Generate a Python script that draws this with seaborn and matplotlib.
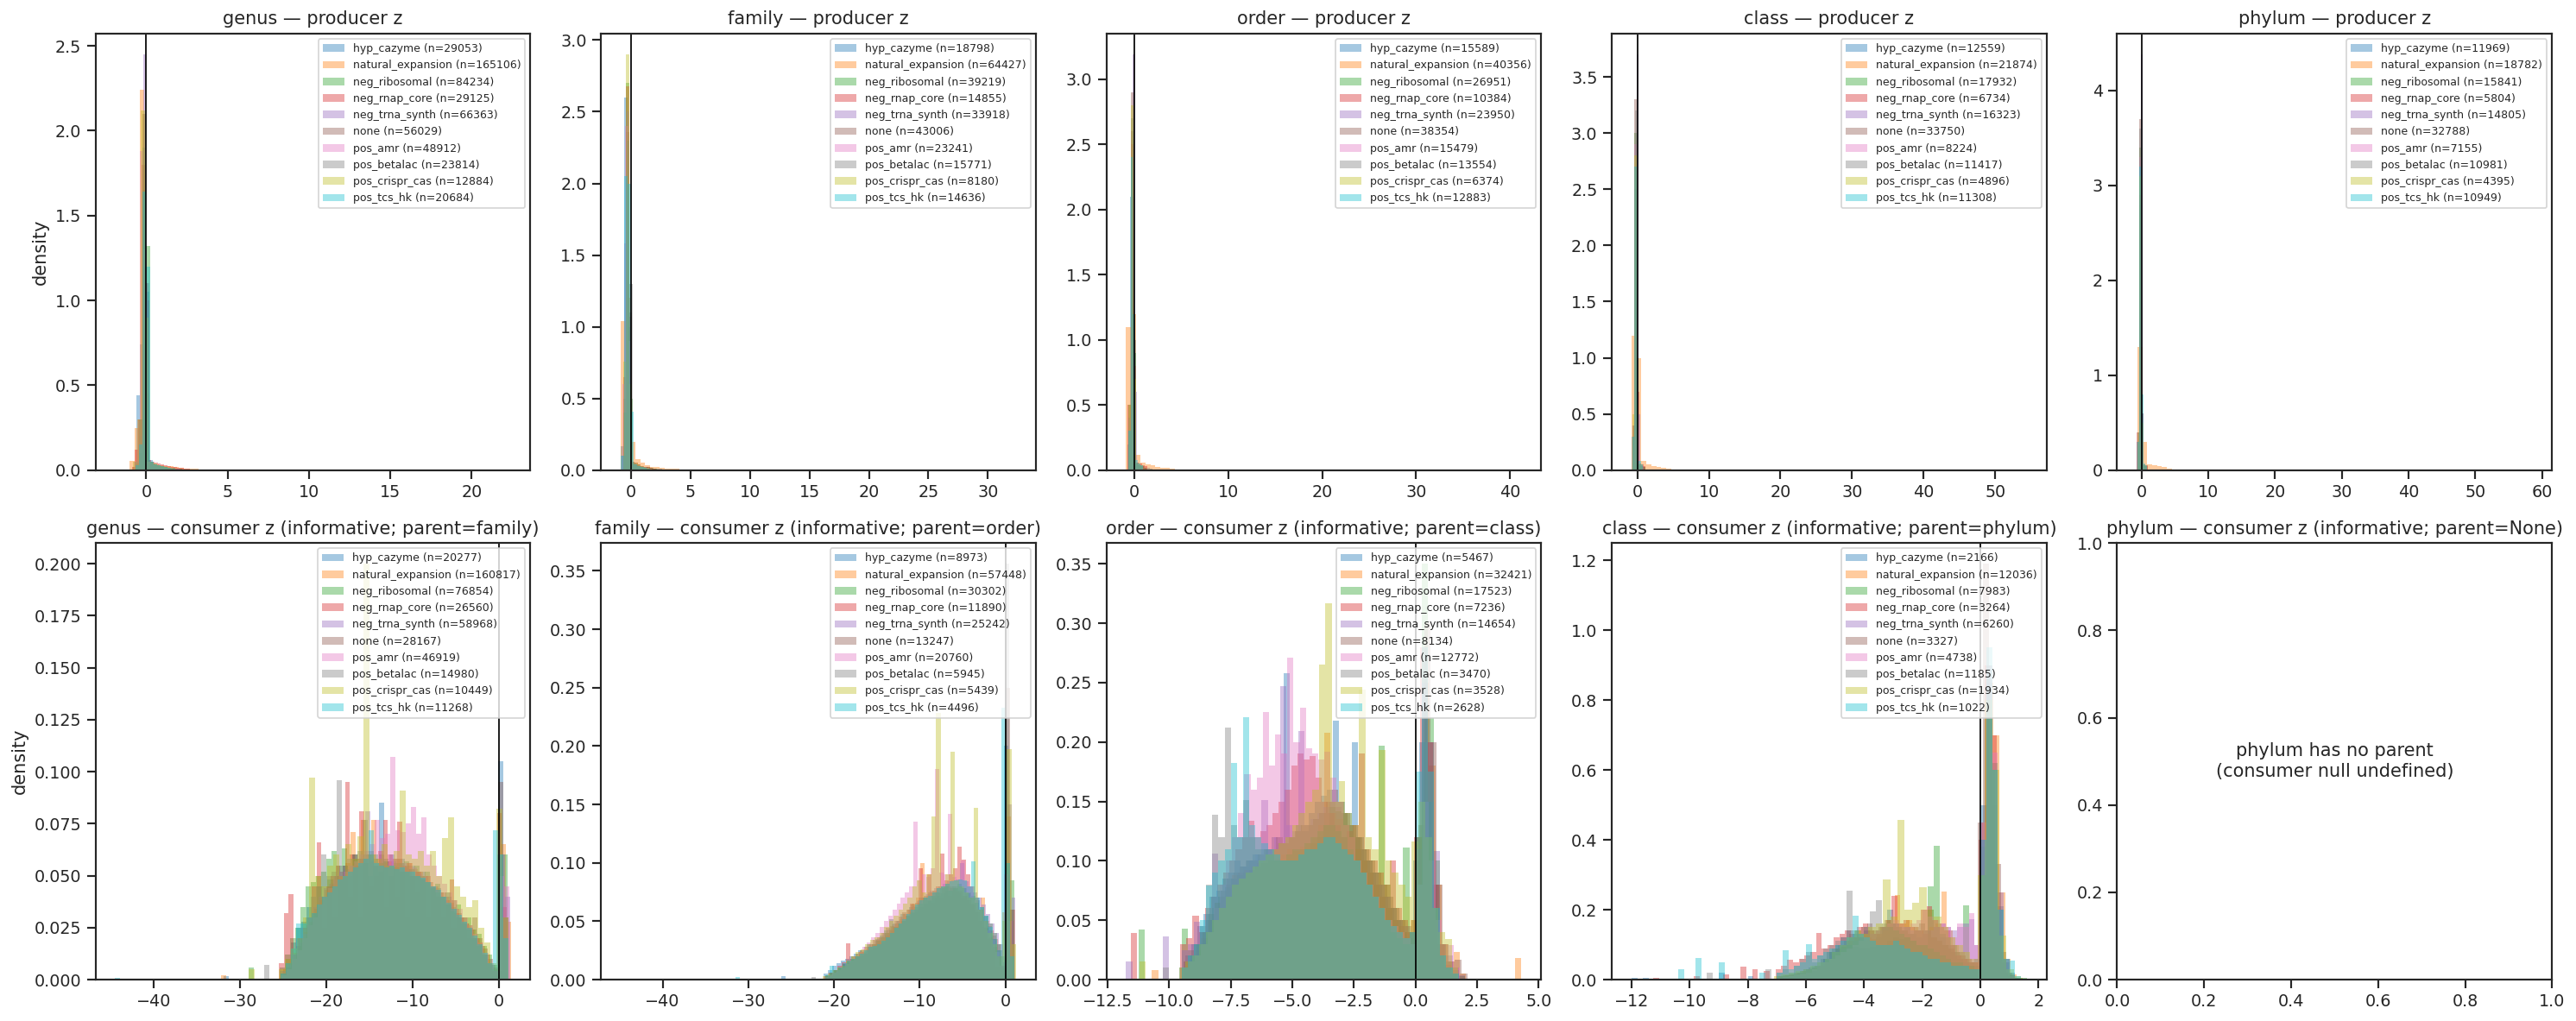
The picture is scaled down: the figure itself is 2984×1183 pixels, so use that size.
import numpy as np
import seaborn as sns
import matplotlib.pyplot as plt

sns.set_theme(style="ticks")
plt.rcParams["font.family"] = ["DejaVu Sans"]

GROUPS = ["hyp_cazyme", "natural_expansion", "neg_ribosomal", "neg_rnap_core", "neg_trna_synth",
          "none", "pos_amr", "pos_betalac", "pos_crispr_cas", "pos_tcs_hk"]
COLORS = sns.color_palette("tab10", 10)
RANKS = ["genus", "family", "order", "class", "phylum"]
PARENTS = ["family", "order", "class", "phylum", "None"]

# sample sizes shown in the legends
n_prod_genus = [29053, 165106, 84234, 29125, 66363, 56029, 48912, 23814, 12884, 20684]
n_prod_family = [18798, 64427, 39219, 14855, 33918, 43006, 23241, 15771, 8180, 14636]
n_prod_order = [15589, 40356, 26951, 10384, 23950, 38354, 15479, 13554, 6374, 12883]
n_prod_class = [12559, 21874, 17932, 6734, 16323, 33750, 8224, 11417, 4896, 11308]
n_prod_phylum = [11969, 18782, 15841, 5804, 14805, 32788, 7155, 10981, 4395, 10949]
n_cons_genus = [20277, 160817, 76854, 26560, 58968, 28167, 46919, 14980, 10449, 11268]
n_cons_family = [8973, 57448, 30302, 11890, 25242, 13247, 20760, 5945, 5439, 4496]
n_cons_order = [5467, 32421, 17523, 7236, 14654, 8134, 12772, 3470, 3528, 2628]
n_cons_class = [2166, 12036, 7983, 3264, 6260, 3327, 4738, 1185, 1934, 1022]

# histogram densities: group -> (first bin edge, bin width, bar heights)
prod_genus = {
    "hyp_cazyme": (-0.82, 0.2, [.02, .44, .74, 1.64, 1.05, .06, .04, .03, .025, .02, .016, .012, .01, .008, .006, .005, .004]),
    "natural_expansion": (-1.01, 0.3, [.055, .25, 2.24, .45, .04, .035, .03, .026, .022, .018, .014, .011, .009, .007, .005, .004, .003, .002]),
    "neg_ribosomal": (-0.66, 0.22, [.03, .1, 1.65, 1.32, .05, .035, .03, .025, .02, .015, .012, .01, .008, .006, .005]),
    "neg_rnap_core": (-0.9, 0.2, [.02, .12, .3, 1.8, 1.1, .06, .05, .045, .04, .035, .03, .025, .02, .018, .015, .012, .01, .008, .006, .005]),
    "neg_trna_synth": (-0.6, 0.2, [.05, .2, 2.45, 1.0, .05, .03, .02, .015, .01, .008, .006]),
    "none": (-0.7, 0.22, [.05, .3, 2.1, 1.0, .04, .03, .025, .02, .015, .01, .008, .006]),
    "pos_amr": (-0.78, 0.2, [.05, .3, 1.88, 1.3, .05, .04, .035, .03, .025, .02, .015, .012, .01, .008]),
    "pos_betalac": (-0.68, 0.22, [.04, .3, 1.9, 1.1, .05, .035, .03, .025, .02, .015, .01]),
    "pos_crispr_cas": (-0.8, 0.24, [.05, .3, 2.12, .9, .05, .04, .03, .025, .02, .015, .01]),
    "pos_tcs_hk": (-0.66, 0.22, [.03, .15, 1.64, 1.2, .05, .035, .03, .025, .02, .015, .01]),
}
tails_prod_genus = {"natural_expansion": [(-1.75, .001), (22.2, .0008)]}

prod_family = {
    "hyp_cazyme": (-0.82, 0.29, [.17, 2.6, 1.0, .06, .04, .03, .025, .02, .015, .012, .01, .008]),
    "natural_expansion": (-0.85, 0.41, [1.04, 1.2, .2, .075, .055, .035, .025, .02, .015, .012, .01, .008, .006, .005]),
    "neg_ribosomal": (-0.73, 0.29, [.1, 2.7, .5, .05, .04, .03, .025, .02, .015, .01]),
    "neg_rnap_core": (-0.65, 0.25, [.65, 2.68, 1.07, .06, .05, .04, .03, .025, .02, .015, .01]),
    "neg_trna_synth": (-0.76, 0.2, [.1, 1.58, 2.5, .6, .05, .04, .03, .02, .015, .01]),
    "none": (-0.65, 0.25, [.5, 2.36, 1.1, .05, .04, .03, .025, .02, .015]),
    "pos_amr": (-0.7, 0.25, [.6, 2.4, .9, .06, .05, .04, .03, .02, .015, .01]),
    "pos_betalac": (-0.6, 0.25, [.4, 2.3, 1.3, .05, .04, .03, .02, .015, .01]),
    "pos_crispr_cas": (-0.63, 0.24, [.76, 2.9, .6, .06, .05, .04, .03, .02, .015, .01]),
    "pos_tcs_hk": (-0.81, 0.27, [.1, 2.05, 2.0, .41, .04, .03, .02, .015, .01]),
}
tails_prod_family = {"natural_expansion": [(32.1, .0005)]}

prod_order = {
    "hyp_cazyme": (-0.75, 0.3, [.2, 2.1, 1.0, .06, .04, .03, .02, .015, .01]),
    "natural_expansion": (-0.9, 0.52, [1.1, 1.2, .12, .06, .045, .035, .025, .02, .015, .01, .008]),
    "neg_ribosomal": (-0.7, 0.28, [.3, 2.6, .9, .05, .04, .03, .02]),
    "neg_rnap_core": (-0.72, 0.3, [.5, 2.5, .8, .06, .05, .04, .03]),
    "neg_trna_synth": (-0.62, 0.22, [.3, 1.5, 3.19, .6, .05, .04, .03]),
    "none": (-0.65, 0.25, [.4, 2.9, .8, .05, .04, .03]),
    "pos_amr": (-0.7, 0.27, [.4, 2.6, .9, .06, .05, .04]),
    "pos_betalac": (-0.62, 0.25, [.5, 2.7, .9, .05, .04, .03]),
    "pos_crispr_cas": (-0.66, 0.26, [.5, 2.8, .7, .06, .05, .04]),
    "pos_tcs_hk": (-0.7, 0.27, [.3, 2.4, 1.2, .08, .05, .04]),
}
tails_prod_order = {"natural_expansion": [(41.0, .0005)]}

prod_class = {
    "hyp_cazyme": (-0.75, 0.32, [.3, 2.5, .8, .05, .04, .03]),
    "natural_expansion": (-0.8, 0.69, [1.2, 1.0, .08, .05, .04, .03, .02, .01, .008]),
    "neg_ribosomal": (-0.7, 0.3, [.3, 3.0, .7, .05, .04, .03]),
    "neg_rnap_core": (-0.72, 0.32, [.4, 2.7, .7, .06, .05, .04]),
    "neg_trna_synth": (-0.6, 0.25, [.3, 1.5, 3.7, .5, .05, .04]),
    "none": (-0.65, 0.28, [.3, 3.3, .6, .05, .04]),
    "pos_amr": (-0.7, 0.3, [.4, 2.9, .7, .06, .05]),
    "pos_betalac": (-0.62, 0.27, [.4, 3.2, .6, .05, .04]),
    "pos_crispr_cas": (-0.68, 0.3, [.5, 2.8, .6, .06, .05]),
    "pos_tcs_hk": (-0.7, 0.3, [.3, 2.7, 1.0, .08, .05]),
}
tails_prod_class = {"natural_expansion": [(54.3, .0004)]}

prod_phylum = {
    "hyp_cazyme": (-0.7, 0.32, [.3, 2.8, .6, .05, .04]),
    "natural_expansion": (-0.6, 0.73, [1.3, .3, .06, .05, .04, .03, .02, .01]),
    "neg_ribosomal": (-0.65, 0.3, [.3, 3.4, .6, .05, .04]),
    "neg_rnap_core": (-0.7, 0.32, [.4, 2.9, .6, .06, .05]),
    "neg_trna_synth": (-0.55, 0.22, [.4, 1.6, 4.38, .5, .05, .04]),
    "none": (-0.6, 0.27, [.3, 3.7, .5, .05, .04]),
    "pos_amr": (-0.65, 0.3, [.4, 3.3, .6, .06, .05]),
    "pos_betalac": (-0.6, 0.27, [.4, 3.6, .5, .05, .04]),
    "pos_crispr_cas": (-0.66, 0.3, [.4, 3.1, .5, .06, .05]),
    "pos_tcs_hk": (-0.65, 0.3, [.3, 3.2, .8, .07, .05]),
}
tails_prod_phylum = {"natural_expansion": [(58.1, .0003)]}

cons_genus = {
    "hyp_cazyme": (-25.3, 0.6, [.003, .01, .018, .025, .028, .035, .03, .045, .025, .048, .03, .05, .055, .04, .058, .03, .06, .045, .05, .085, .035, .06, .04, .058, .03, .055, .042, .052, .03, .045, .044, .03, .04, .025, .03, .028, .02, .02, .017, .012, .007, .004, .105, .03]),
    "natural_expansion": (-25.0, 0.6, [.005, .008, .013, .018, .023, .028, .034, .038, .043, .046, .05, .052, .056, .071, .058, .077, .06, .077, .058, .056, .057, .055, .058, .054, .056, .053, .052, .05, .047, .045, .042, .04, .037, .034, .03, .027, .024, .02, .016, .012, .007, .005, .065, .028]),
    "neg_ribosomal": (-25.4, 0.6, [.006, .012, .02, .025, .035, .045, .047, .05, .052, .058, .062, .055, .063, .05, .06, .055, .058, .05, .06, .052, .058, .05, .056, .052, .057, .05, .055, .048, .052, .045, .046, .04, .042, .035, .036, .03, .03, .024, .022, .016, .012, .007, .004, .06]),
    "neg_rnap_core": (-25.5, 0.55, [.008, .032, .041, .012, .02, .025, .03, .045, .066, .04, .045, .05, .055, .05, .095, .06, .055, .081, .058, .06, .055, .062, .077, .06, .058, .076, .055, .056, .05, .052, .048, .05, .045, .043, .04, .038, .048, .032, .03, .027, .025, .02, .018, .012, .008, .004, .08, .035]),
    "neg_trna_synth": (-25.1, 0.6, [.004, .007, .012, .018, .022, .03, .035, .04, .044, .046, .05, .052, .053, .055, .056, .058, .081, .057, .056, .058, .055, .057, .054, .056, .053, .054, .051, .05, .047, .045, .042, .04, .036, .034, .03, .027, .024, .02, .016, .012, .007, .004, .06, .04]),
    "none": (-25.3, 0.6, [.003, .006, .01, .016, .02, .026, .032, .036, .04, .045, .048, .05, .055, .052, .06, .058, .056, .062, .055, .06, .057, .054, .058, .052, .055, .05, .052, .048, .047, .044, .04, .042, .036, .038, .032, .03, .026, .03, .02, .015, .01, .006, .095, .03]),
    "pos_amr": (-25.2, 0.6, [.002, .005, .01, .014, .02, .026, .03, .036, .04, .044, .048, .05, .052, .055, .057, .06, .062, .065, .077, .068, .07, .107, .072, .071, .075, .083, .07, .078, .06, .055, .05, .046, .042, .038, .034, .03, .026, .022, .018, .013, .008, .004, .05, .045]),
    "pos_betalac": (-25.4, 0.6, [.004, .008, .012, .02, .025, .03, .04, .045, .06, .05, .052, .096, .055, .058, .06, .062, .077, .06, .058, .056, .057, .055, .054, .056, .052, .053, .05, .05, .047, .044, .042, .04, .036, .033, .03, .027, .024, .02, .016, .012, .008, .005, .06, .03]),
    "pos_crispr_cas": (-25.5, 0.7, [.005, .01, .015, .02, .03, .097, .05, .045, .055, .06, .05, .065, .058, .069, .2, .06, .058, .065, .055, .062, .091, .06, .058, .062, .055, .062, .05, .068, .078, .045, .04, .035, .038, .025, .018, .008, .082, .03]),
    "pos_tcs_hk": (-25.3, 0.6, [.003, .008, .015, .027, .027, .03, .032, .036, .04, .042, .045, .048, .05, .052, .054, .056, .058, .072, .056, .055, .054, .055, .053, .054, .052, .052, .05, .049, .047, .045, .043, .04, .037, .034, .031, .028, .025, .021, .017, .013, .008, .072, .06, .02]),
}
tails_cons_genus = {"hyp_cazyme": [(-31.4, .0015)], "natural_expansion": [(-31.8, .002)],
                    "neg_ribosomal": [(-29.0, .006)], "pos_betalac": [(-27.0, .007)],
                    "pos_crispr_cas": [(-29.0, .005)], "pos_tcs_hk": [(-44.5, .001)]}

cons_family = {
    "hyp_cazyme": (-21.2, 0.5, [.005, .008, .012, .014, .016, .018, .02, .022, .025, .024, .03, .028, .035, .038, .042, .04, .048, .05, .056, .052, .062, .058, .068, .064, .07, .066, .075, .07, .078, .072, .08, .075, .07, .074, .065, .06, .05, .045, .035, .025, .01, .008, .2, .05]),
    "natural_expansion": (-20.9, 0.5, [.004, .006, .008, .01, .012, .015, .017, .02, .022, .025, .028, .03, .033, .036, .04, .045, .048, .052, .056, .06, .065, .07, .1, .068, .072, .075, .074, .078, .08, .078, .076, .075, .072, .07, .066, .06, .07, .05, .042, .035, .025, .058, .14, .06]),
    "neg_ribosomal": (-21.0, 0.5, [.004, .006, .008, .01, .013, .015, .017, .019, .02, .022, .025, .027, .03, .033, .036, .04, .043, .047, .05, .054, .057, .06, .062, .065, .067, .07, .072, .074, .076, .078, .08, .08, .078, .075, .072, .068, .062, .055, .048, .04, .03, .012, .1, .085]),
    "neg_rnap_core": (-21.1, 0.5, [.003, .006, .008, .012, .015, .031, .018, .02, .024, .022, .028, .03, .034, .032, .038, .042, .045, .048, .05, .055, .065, .06, .095, .07, .09, .075, .08, .108, .085, .09, .095, .114, .103, .09, .08, .07, .06, .05, .042, .035, .025, .012, .09, .05]),
    "neg_trna_synth": (-20.8, 0.5, [.003, .005, .007, .01, .013, .016, .018, .02, .023, .026, .03, .033, .036, .04, .043, .047, .05, .053, .056, .06, .063, .067, .07, .073, .076, .078, .08, .082, .084, .085, .086, .1, .084, .08, .075, .07, .064, .056, .048, .04, .03, .015, .15, .07]),
    "none": (-21.0, 0.5, [.003, .005, .008, .01, .013, .016, .02, .022, .025, .028, .03, .034, .036, .04, .044, .046, .05, .054, .058, .06, .064, .066, .07, .072, .075, .076, .078, .08, .082, .08, .078, .076, .072, .068, .064, .058, .05, .044, .036, .028, .02, .01, .25, .06]),
    "pos_amr": (-21.2, 0.5, [.002, .004, .006, .008, .01, .013, .016, .02, .024, .028, .032, .036, .04, .045, .05, .055, .06, .065, .07, .075, .08, .135, .085, .09, .088, .095, .18, .092, .09, .142, .088, .085, .102, .08, .075, .068, .06, .05, .042, .034, .024, .012, .09, .05]),
    "pos_betalac": (-20.6, 0.5, [.003, .006, .01, .012, .015, .018, .02, .022, .025, .028, .03, .033, .036, .04, .052, .045, .048, .05, .055, .058, .062, .065, .07, .068, .072, .075, .078, .08, .076, .078, .082, .078, .074, .07, .066, .06, .054, .046, .038, .03, .02, .356, .06]),
    "pos_crispr_cas": (-21.3, 0.55, [.003, .005, .008, .01, .012, .016, .02, .024, .026, .03, .034, .036, .04, .045, .05, .055, .06, .065, .07, .08, .085, .075, .09, .14, .228, .08, .09, .195, .085, .08, .075, .07, .147, .06, .05, .04, .03, .02, .05, .197, .03]),
    "pos_tcs_hk": (-21.0, 0.5, [.004, .012, .008, .01, .014, .016, .018, .02, .022, .025, .028, .029, .03, .033, .036, .04, .044, .048, .052, .056, .06, .064, .068, .07, .072, .075, .078, .08, .082, .084, .085, .086, .085, .08, .101, .07, .062, .055, .045, .035, .025, .233, .1, .02]),
}
tails_cons_family = {"hyp_cazyme": [(-26.0, .003)], "natural_expansion": [(-44.6, .0005)],
                     "pos_betalac": [(-22.5, .002)], "pos_tcs_hk": [(-31.5, .002)]}

cons_order = {
    "hyp_cazyme": (-9.6, 0.25, [.01, .02, .03, .045, .055, .07, .075, .085, .09, .1, .095, .1, .105, .1, .11, .12, .115, .258, .12, .13, .125, .14, .15, .155, .16, .218, .15, .14, .2, .12, .1, .09, .08, .07, .06, .05, .04, .035, .1, .2, .15, .08, .03, .01, .005]),
    "natural_expansion": (-9.45, 0.25, [.01, .015, .025, .035, .05, .06, .07, .08, .088, .09, .092, .095, .098, .1, .1, .102, .105, .11, .108, .112, .115, .12, .13, .208, .14, .135, .13, .12, .11, .1, .09, .08, .07, .06, .05, .045, .04, .05, .12, .25, .18, .08, .03, .015, .023, .005]),
    "neg_ribosomal": (-9.5, 0.25, [.043, .025, .03, .04, .05, .06, .07, .078, .085, .088, .09, .092, .095, .098, .1, .1, .1, .1, .1, .105, .11, .115, .12, .13, .145, .142, .14, .13, .12, .11, .1, .09, .197, .08, .06, .05, .111, .04, .12, .35, .22, .1, .03, .015, .008, .003]),
    "neg_rnap_core": (-9.55, 0.25, [.03, .035, .054, .04, .06, .07, .08, .09, .1, .11, .12, .134, .12, .125, .13, .14, .15, .16, .18, .19, .185, .188, .17, .15, .14, .13, .12, .125, .13, .19, .11, .1, .09, .08, .1, .06, .05, .04, .12, .28, .2, .08, .03, .012, .005]),
    "neg_trna_synth": (-9.5, 0.25, [.025, .03, .049, .04, .05, .106, .07, .08, .085, .09, .095, .1, .105, .151, .11, .12, .247, .13, .125, .209, .13, .135, .14, .145, .15, .145, .14, .13, .12, .11, .1, .09, .08, .07, .06, .05, .045, .04, .11, .25, .2, .108, .03, .02, .01, .004]),
    "none": (-9.4, 0.25, [.015, .02, .03, .04, .055, .065, .075, .085, .09, .095, .1, .1, .105, .11, .11, .12, .115, .12, .125, .13, .13, .135, .14, .15, .16, .15, .14, .13, .12, .11, .1, .09, .08, .07, .06, .05, .045, .05, .13, .3, .2, .08, .03, .015, .017, .005]),
    "pos_amr": (-9.45, 0.25, [.01, .015, .02, .03, .04, .06, .08, .1, .12, .14, .173, .16, .17, .225, .18, .206, .19, .271, .2, .229, .195, .19, .185, .192, .17, .15, .13, .12, .1, .09, .08, .07, .06, .05, .045, .04, .035, .03, .08, .15, .1, .05, .03, .029, .01]),
    "pos_betalac": (-9.5, 0.25, [.01, .02, .03, .045, .08, .139, .12, .212, .13, .12, .151, .12, .11, .11, .105, .1, .1, .105, .11, .11, .115, .12, .125, .13, .13, .125, .12, .11, .1, .09, .08, .07, .06, .05, .04, .035, .03, .03, .08, .2, .15, .06, .02, .01, .005]),
    "pos_crispr_cas": (-9.6, 0.27, [.01, .015, .02, .03, .04, .05, .06, .07, .08, .085, .09, .095, .1, .105, .11, .115, .12, .13, .14, .15, .16, .265, .317, .15, .167, .14, .13, .244, .12, .11, .193, .1, .09, .08, .07, .116, .15, .12, .06, .04, .034, .01]),
    "pos_tcs_hk": (-9.5, 0.25, [.01, .02, .03, .05, .079, .09, .1, .11, .182, .12, .221, .13, .12, .115, .11, .105, .1, .1, .1, .105, .11, .11, .115, .12, .12, .115, .11, .105, .1, .09, .08, .07, .06, .05, .045, .04, .035, .04, .175, .28, .175, .06, .02, .01, .005]),
}
tails_cons_order = {"natural_expansion": [(-10.5, .008), (4.1, .018)], "neg_ribosomal": [(-11.1, .042)],
                    "neg_rnap_core": [(-11.4, .039)], "neg_trna_synth": [(-11.7, .015), (-10.1, .036)],
                    "pos_betalac": [(-10.2, .01)], "pos_crispr_cas": [(-11.1, .015)]}

cons_class = {
    "hyp_cazyme": (-7.0, 0.2, [.01, .012, .015, .02, .025, .03, .035, .04, .06, .08, .1, .12, .14, .13, .12, .14, .11, .12, .15, .2, .16, .14, .15, .13, .12, .14, .2, .15, .12, .1, .08, .06, .05, .04, .06, .5, .8, .5, .21, .06, .02, .005]),
    "natural_expansion": (-6.95, 0.2, [.01, .012, .015, .02, .025, .03, .035, .04, .05, .07, .09, .1, .11, .12, .11, .12, .115, .13, .14, .15, .243, .16, .17, .15, .14, .13, .15, .16, .251, .14, .1, .08, .06, .05, .05, .45, .85, .7, .25, .06, .015, .005]),
    "neg_ribosomal": (-7.0, 0.2, [.005, .006, .008, .01, .012, .02, .025, .04, .06, .08, .09, .095, .1, .095, .09, .09, .095, .1, .1, .11, .12, .115, .12, .11, .1, .1, .267, .382, .13, .12, .1, .08, .212, .05, .04, .38, .8, .62, .2, .05, .012, .006, .005]),
    "neg_rnap_core": (-7.05, 0.2, [.03, .04, .056, .05, .06, .07, .08, .133, .09, .1, .12, .13, .14, .12, .15, .16, .14, .13, .15, .17, .24, .16, .17, .15, .14, .2, .21, .17, .15, .14, .1, .07, .06, .05, .05, .4, .9, .7, .2, .05, .01]),
    "neg_trna_synth": (-7.0, 0.2, [.005, .008, .01, .015, .02, .03, .04, .05, .06, .07, .08, .09, .1, .11, .12, .12, .13, .14, .15, .15, .16, .15, .15, .14, .14, .13, .14, .15, .16, .15, .14, .15, .16, .172, .1, .4, .85, .6, .25, .06, .015, .005]),
    "none": (-6.9, 0.2, [.01, .012, .015, .02, .03, .035, .04, .06, .08, .09, .1, .11, .13, .14, .15, .16, .14, .15, .17, .16, .15, .14, .13, .15, .16, .14, .12, .11, .1, .09, .08, .07, .06, .05, .45, 1.19, .6, .33, .08, .02, .005]),
    "pos_amr": (-7.0, 0.2, [.005, .008, .01, .012, .015, .02, .03, .04, .05, .06, .07, .08, .09, .1, .11, .12, .13, .14, .15, .16, .17, .16, .15, .16, .17, .2, .18, .17, .16, .15, .12, .16, .15, .19, .1, .45, .9, .65, .2, .05, .01]),
    "pos_betalac": (-7.0, 0.2, [.02, .03, .02, .04, .06, .08, .05, .07, .09, .1, .11, .12, .254, .14, .13, .15, .196, .227, .16, .15, .14, .13, .12, .11, .1, .1, .09, .08, .07, .06, .05, .05, .04, .04, .03, .3, .9, .6, .2, .05, .01]),
    "pos_crispr_cas": (-7.1, 0.25, [.01, .015, .02, .025, .03, .04, .05, .06, .08, .1, .12, .14, .13, .15, .16, .286, .18, .456, .2, .22, .265, .2, .18, .15, .12, .1, .08, .06, .3, .8, .6, .126, .03, .01]),
    "pos_tcs_hk": (-7.0, 0.2, [.02, .085, .03, .04, .05, .102, .06, .07, .08, .09, .1, .11, .12, .184, .13, .12, .11, .1, .1, .1, .11, .1, .09, .08, .08, .07, .06, .06, .05, .05, .04, .04, .04, .03, .03, .4, .95, .6, .2, .06, .054, .01]),
}
tails_cons_class = {"hyp_cazyme": [(-11.9, .004), (-11.5, .005), (-9.0, .02), (-8.0, .01)],
                    "neg_rnap_core": [(-11.1, .005), (-9.7, .01), (-8.8, .015), (-8.2, .038), (-7.8, .03), (-7.4, .025)],
                    "pos_betalac": [(-9.3, .02), (-7.3, .03)],
                    "pos_tcs_hk": [(-10.3, .03), (-9.8, .062), (-8.9, .05), (-7.6, .02)]}

producer = [(prod_genus, tails_prod_genus, n_prod_genus), (prod_family, tails_prod_family, n_prod_family),
            (prod_order, tails_prod_order, n_prod_order), (prod_class, tails_prod_class, n_prod_class),
            (prod_phylum, tails_prod_phylum, n_prod_phylum)]
consumer = [(cons_genus, tails_cons_genus, n_cons_genus), (cons_family, tails_cons_family, n_cons_family),
            (cons_order, tails_cons_order, n_cons_order), (cons_class, tails_cons_class, n_cons_class)]


def draw_hist(ax, spec, tails, counts):
    for k, g in enumerate(GROUPS):
        lo, w, hs = spec[g]
        xs = [lo + w * (i + 0.5) for i in range(len(hs))]
        ws = list(hs)
        for x, h in tails.get(g, []):
            xs.append(x)
            ws.append(h)
        hi = lo + w * len(hs)
        n_left = int(np.ceil((lo - min(xs)) / w)) if min(xs) < lo else 0
        n_right = int(np.ceil((max(xs) - hi) / w)) if max(xs) > hi else 0
        edges = [lo + w * i for i in range(-n_left, len(hs) + n_right + 1)]
        sns.histplot(x=xs, weights=ws, bins=edges, stat="count", color=COLORS[k],
                     alpha=0.4, linewidth=0, ax=ax, label=f"{g} (n={counts[k]})")
    ax.axvline(0, color="black", lw=1)
    ax.legend(loc="upper right", fontsize=7.2)
    ax.set_xlabel("")
    ax.set_ylabel("")


DPI = 125
fig, axes = plt.subplots(2, 5, figsize=(2984 / DPI, 1183 / DPI), dpi=DPI)

for j, rank in enumerate(RANKS):
    ax = axes[0, j]
    draw_hist(ax, *producer[j])
    ax.set_title(f"{rank} — producer z")

    ax = axes[1, j]
    if j < 4:
        draw_hist(ax, *consumer[j])
    else:
        ax.text(0.5, 0.5, "phylum has no parent\n(consumer null undefined)",
                ha="center", va="center", transform=ax.transAxes)
    ax.set_title(f"{rank} — consumer z (informative; parent={PARENTS[j]})")

axes[0, 0].set_ylabel("density")
axes[1, 0].set_ylabel("density")

fig.tight_layout(pad=0.6, w_pad=1.08, h_pad=1.08)
fig.savefig("out.png", dpi=DPI)
